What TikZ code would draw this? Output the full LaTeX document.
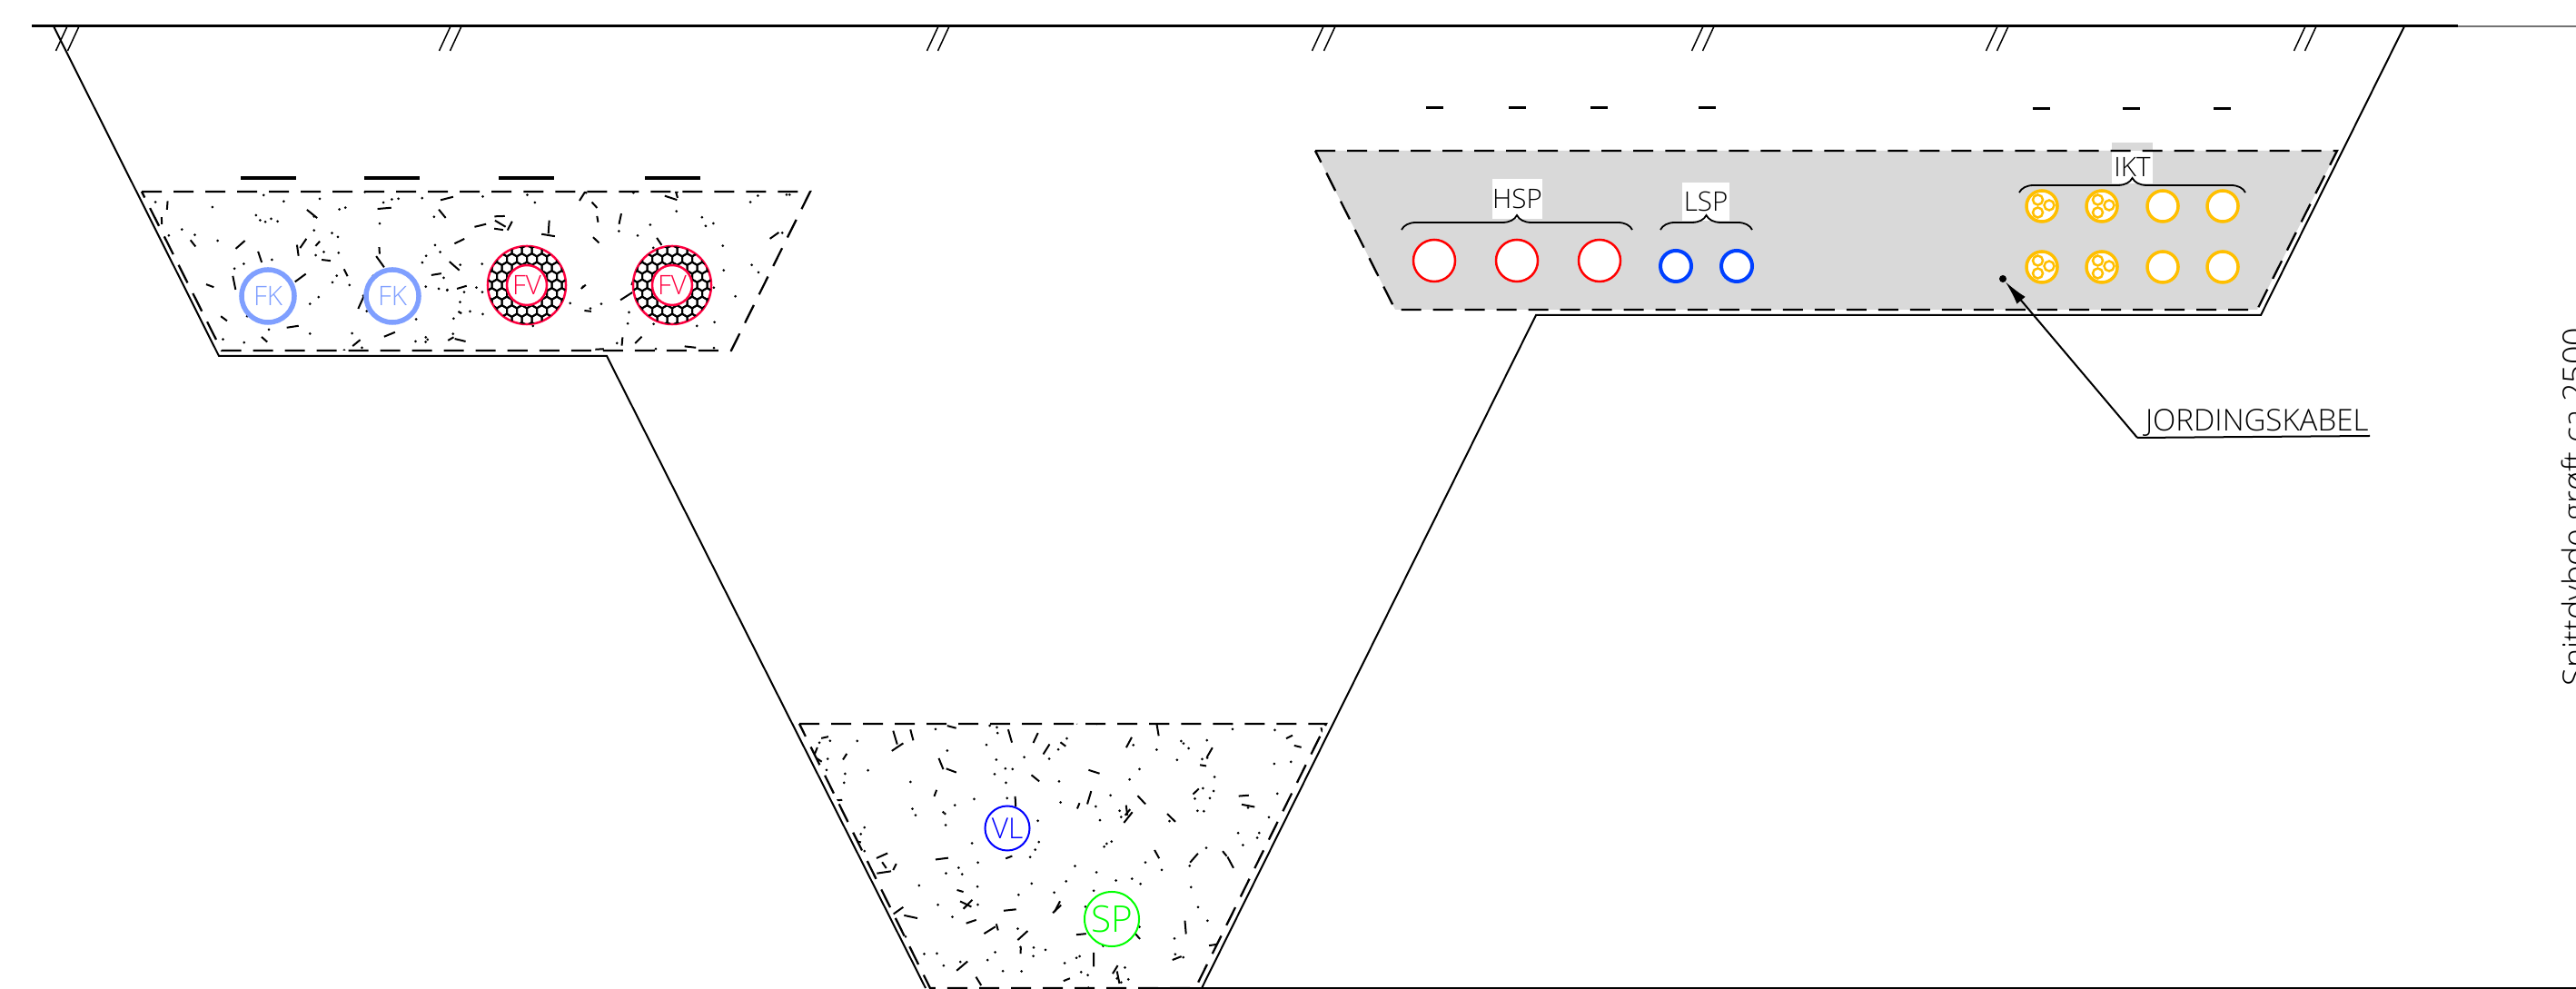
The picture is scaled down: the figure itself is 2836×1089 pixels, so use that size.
\documentclass[tikz,border=0pt]{standalone}
\usepackage{fontspec}
\setmainfont{Open Sans}[UprightFont=* Light]
\usepackage{xcolor}
\usetikzlibrary{arrows.meta,decorations.pathreplacing}

\definecolor{fkblue}{HTML}{7F9FFF}
\definecolor{fvred}{HTML}{FF0040}
\definecolor{lspblue}{HTML}{0040FF}
\definecolor{iktyellow}{HTML}{FFBF00}
\definecolor{massgray}{HTML}{D9D9D9}

\tikzset{
  wall/.style={line width=.02cm},
  fillline/.style={line width=.023cm,dash pattern=on .22cm off .13cm},
  dash mark/.style={line width=.035cm},
  pipe/.style={circle,draw,fill=white,minimum size=#1},
  fk/.style={pipe=.58cm,draw=fkblue,text=fkblue,line width=.055cm,font=\fontsize{8.4}{9}\selectfont},
  fvring/.style={pipe=.86cm,draw=fvred,line width=.025cm},
  fv/.style={pipe=.44cm,draw=fvred,text=fvred,line width=.025cm,font=\fontsize{8.4}{9}\selectfont},
  hsp/.style={pipe=.46cm,draw=red,line width=.025cm},
  lsp/.style={pipe=.34cm,draw=lspblue,line width=.04cm},
  ikt/.style={pipe=.34cm,draw=iktyellow,line width=.035cm},
  core/.style={circle,draw=iktyellow,minimum size=.11cm,line width=.025cm},
  tag/.style={fill=white,text=black,font=\fontsize{8.4}{9}\selectfont},
  groupbrace/.style={line width=.018cm,decorate,decoration={brace,amplitude=.16cm}}
}

% random stones, n dashes and 2n dots in the box
\newcommand{\stones}[5]{
  \foreach \k in {1,...,#1}{
    \pgfmathsetmacro{\sx}{#2+rnd*(#3-#2)}
    \pgfmathsetmacro{\sy}{#4+rnd*(#5-#4)}
    \pgfmathsetmacro{\sa}{rnd*180}
    \pgfmathsetmacro{\sl}{.06+rnd*.1}
    \draw[line width=.02cm] (\sx,\sy) -- +(\sa:\sl cm);
    \pgfmathsetmacro{\dx}{#2+rnd*(#3-#2)}
    \pgfmathsetmacro{\dy}{#4+rnd*(#5-#4)}
    \fill (\dx,\dy) circle (.015cm);
    \pgfmathsetmacro{\dx}{#2+rnd*(#3-#2)}
    \pgfmathsetmacro{\dy}{#4+rnd*(#5-#4)}
    \fill (\dx,\dy) circle (.015cm);
  }
}

% honeycomb in the ring round a FV pipe
\newcommand{\honeycomb}[2]{
  \begin{scope}[even odd rule]
    \clip (#1,#2) circle (.425cm) (#1,#2) circle (.22cm);
    \foreach \i in {-5,...,5}
      \foreach \j in {-5,...,5}{
        \pgfmathsetmacro{\hx}{#1+11*(\i+.5*mod(abs(\j),2))}
        \pgfmathsetmacro{\hy}{#2+9.5*\j}
        \draw[line width=.02cm] (\hx,\hy) +(30:.0635cm) -- +(90:.0635cm) -- +(150:.0635cm)
          -- +(210:.0635cm) -- +(270:.0635cm) -- +(330:.0635cm) -- cycle;
      }
  \end{scope}
}

\begin{document}
\begin{tikzpicture}
  [x=.01cm,y=-.01cm,every node/.style={inner sep=0pt,outer sep=0pt}]
  \useasboundingbox (0,0) rectangle (2836,1089);
  \pgfmathsetseed{41}

  % ground and trench
  \draw[black!55,line width=.015cm] (2706,29) -- (2836,29);
  \draw[line width=.03cm] (35,29) -- (2706,29);
  \draw[wall] (59,29) -- (241,392) -- (668,392) -- (1019,1088);
  \draw[wall] (1323,1088) -- (1691,347) -- (2489,347) -- (2647,29);
  \draw[wall] (1265,1088) -- (2836,1088);
  \foreach \tx in {74,87,496,508,1033,1045,1457,1470,1875,1887,2199,2211,2538,2550}
    \draw[line width=.015cm] (\tx,29) -- ++(-12.5,27);

  % fill masses
  \begin{scope}
    \clip (156,211) -- (892,211) -- (805,386) -- (244,386) -- cycle;
    \stones{72}{156}{892}{211}{386}
  \end{scope}
  \draw[fillline] (156,211) -- (892,211) -- (805,386) -- (244,386) -- cycle;
  \begin{scope}
    \clip (880,797) -- (1460,797) -- (1316,1088) -- (1024,1088) -- cycle;
    \stones{100}{880}{1460}{797}{1088}
  \end{scope}
  \draw[fillline] (880,797) -- (1460,797) -- (1316,1088) -- (1024,1088) -- cycle;
  \fill[massgray] (1448,166) -- (2573,166) -- (2485,341) -- (1536,341) -- cycle;
  \node[fill=massgray,minimum width=.45cm,minimum height=.09cm] (iktcap) at (2347.5,161.5) {};
  \node[tag,minimum width=.45cm,minimum height=.36cm] (ikttag) at (2347.5,184) {IKT};
  \draw[fillline] (1448,166) -- (2573,166) -- (2485,341) -- (1536,341) -- cycle;

  % marks above the pipes
  \foreach \mx/\mlen in {265/61,401/61,549/61,710/61}
    \draw[dash mark] (\mx,196) -- ++(\mlen,0);
  \foreach \mx in {1570,1661,1751,1870}
    \draw[line width=.03cm] (\mx,119) -- ++(19,0);
  \foreach \mx in {2238,2337,2437}
    \draw[line width=.03cm] (\mx,120) -- ++(19,0);

  % left group
  \node[fk] (fk1) at (295,326) {FK};
  \node[fk] (fk2) at (432,326) {FK};
  \node[fvring] (fvr1) at (580,314) {};
  \node[fvring] (fvr2) at (740,314) {};
  \honeycomb{580}{314}
  \honeycomb{740}{314}
  \node[fv] (fv1) at (580,314) {FV};
  \node[fv] (fv2) at (740,314) {FV};

  % bottom group
  \node[pipe=.49cm,draw=blue,text=blue,line width=.02cm,font=\fontsize{9}{9}\selectfont] (vl) at (1109,912) {VL};
  \node[pipe=.6cm,draw=green,text=green,line width=.02cm,font=\fontsize{11.5}{12}\selectfont] (sp) at (1224,1012) {SP};

  % right group
  \foreach \n/\px in {1/1579,2/1670,3/1761}
    \node[hsp] (hsp\n) at (\px,287) {};
  \foreach \n/\px in {1/1845,2/1912}
    \node[lsp] (lsp\n) at (\px,293) {};
  \foreach \n/\px in {1/2248,2/2314,3/2381,4/2447}{
    \node[ikt] (ikta\n) at (\px,227) {};
    \node[ikt] (iktb\n) at (\px,294) {};
  }
  \foreach \pp in {ikta1,ikta2,iktb1,iktb2}
    \foreach \ox/\oy in {-4.5/-7,8/-1,-4.5/7}
      \node[core] at ([shift={(\ox,\oy)}]\pp.center) {};

  \node[tag,minimum width=.53cm,minimum height=.44cm] (hsptag) at (1670.5,219) {HSP};
  \node[tag,minimum width=.52cm,minimum height=.42cm] (lsptag) at (1878,222) {LSP};
  \draw[groupbrace] (1543,253) -- (1797,253);
  \draw[groupbrace] (1828,253) -- (1929,253);
  \draw[groupbrace] (2223,212) -- (2472,212);

  % earth cable with leader
  \node[circle,fill=black,minimum size=.08cm] (earth) at (2205,307) {};
  \coordinate (knee) at (2353,482);
  \node[anchor=base west,font=\fontsize{9.4}{10}\selectfont] (jordlabel) at (2362,475) {JORDINGSKABEL};
  \coordinate (jordend) at (2609,480);
  \draw[line width=.02cm] (jordend) -- (knee);
  \draw[line width=.02cm,-{Latex[length=.27cm,width=.12cm]}] (knee) -- (earth);

  \node[rotate=90,anchor=base,font=\fontsize{10.2}{11}\selectfont] (depth) at (2847,558) {Snittdybde grøft ca 2500};
\end{tikzpicture}
\end{document}
